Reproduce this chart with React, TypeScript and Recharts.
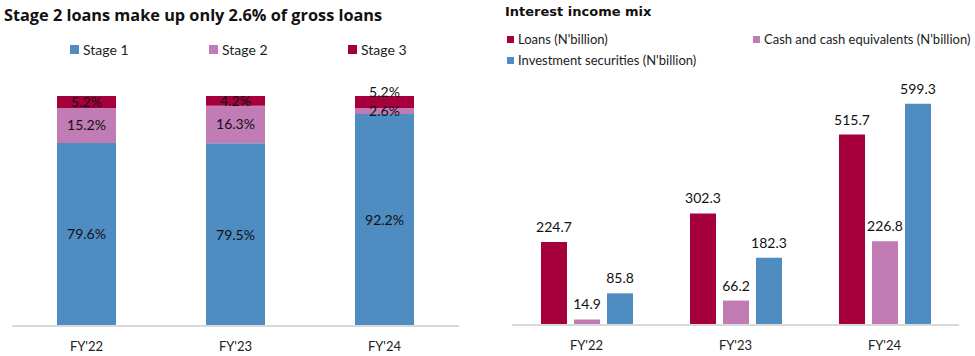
import { BarChart, Bar, XAxis, YAxis, LabelList } from "recharts";

const years = ["FY'22", "FY'23", "FY'24"];
const stage1 = [79.6, 79.5, 92.2];
const stage2 = [15.2, 16.3, 2.6];
const stage3 = [5.2, 4.2, 5.2];

const loans = [224.7, 302.3, 515.7];
const cash = [14.9, 66.2, 226.8];
const investments = [85.8, 182.3, 599.3];

const BLUE = "#4f8cc2";
const PINK = "#c17bb5";
const CRIMSON = "#a6003c";
const FONT = "Lato, 'Noto Sans', sans-serif";

const stageData = years.map((y, i) => ({
  year: y,
  s1: stage1[i],
  s2: stage2[i],
  s3: stage3[i],
}));

const incomeData = years.map((y, i) => ({
  year: y,
  loans: loans[i],
  cash: cash[i],
  inv: investments[i],
}));

const pct = (v: any) => `${Number(v).toFixed(1)}%`;

// stage 3 label gets pushed up when the stage 2 slice under it is tiny
function Stage3Label(props: any) {
  const { x, y, width, height, value, index } = props;
  const bump = stage2[index] < 5 ? -10 : 0;
  return (
    <text
      x={x + width / 2}
      y={y + height / 2 + bump}
      textAnchor="middle"
      dominantBaseline="central"
      fontSize={14}
      fontFamily={FONT}
      fill="#111"
    >
      {pct(value)}
    </text>
  );
}

function Swatch({ color, size }: { color: string; size: number }) {
  return (
    <span
      style={{
        display: "inline-block",
        width: size,
        height: size,
        background: color,
        marginRight: 4,
      }}
    />
  );
}

export default function App() {
  const labelStyle = { fontSize: 14, fontFamily: FONT, fill: "#111" };
  const tick = { fontSize: 13, fontFamily: FONT, fill: "#222" };

  return (
    <div
      style={{
        position: "fixed",
        left: 0,
        top: 0,
        width: 975,
        height: 356,
        background: "#fff",
        fontFamily: FONT,
      }}
    >
      {/* left panel */}
      <div
        style={{
          position: "absolute",
          left: 4,
          top: 4,
          fontSize: 16.3,
          fontWeight: 700,
          fontFamily: "'Open Sans', sans-serif",
          color: "#111",
          whiteSpace: "nowrap",
        }}
      >
        Stage 2 loans make up only 2.6% of gross loans
      </div>
      {[
        { name: "Stage 1", color: BLUE, x: 70 },
        { name: "Stage 2", color: PINK, x: 209 },
        { name: "Stage 3", color: CRIMSON, x: 348 },
      ].map((l) => (
        <div
          key={l.name}
          style={{
            position: "absolute",
            left: l.x,
            top: 41,
            fontSize: 14,
            color: "#222",
            display: "flex",
            alignItems: "center",
            whiteSpace: "nowrap",
          }}
        >
          <Swatch color={l.color} size={9} />
          {l.name}
        </div>
      ))}
      <div style={{ position: "absolute", left: 0, top: 0 }}>
        <BarChart
          width={480}
          height={356}
          data={stageData}
          margin={{ top: 96, left: 12, right: 21, bottom: 0 }}
          barSize={59}
        >
          <XAxis
            dataKey="year"
            height={30}
            axisLine={{ stroke: "#d9d9d9", strokeWidth: 2 }}
            tickLine={false}
            tick={tick}
            tickMargin={10}
          />
          <YAxis hide domain={[0, 100]} />
          <Bar dataKey="s1" stackId="a" fill={BLUE} isAnimationActive={false}>
            <LabelList dataKey="s1" position="center" formatter={pct} style={labelStyle} />
          </Bar>
          <Bar dataKey="s2" stackId="a" fill={PINK} isAnimationActive={false}>
            <LabelList dataKey="s2" position="center" formatter={pct} style={labelStyle} />
          </Bar>
          <Bar dataKey="s3" stackId="a" fill={CRIMSON} isAnimationActive={false}>
            <LabelList dataKey="s3" content={<Stage3Label />} />
          </Bar>
        </BarChart>
      </div>

      {/* right panel */}
      <div
        style={{
          position: "absolute",
          left: 505,
          top: 4,
          fontSize: 13,
          fontWeight: 700,
          fontFamily: "'DejaVu Sans', sans-serif",
          color: "#111",
          whiteSpace: "nowrap",
        }}
      >
        Interest income mix
      </div>
      {[
        { name: "Loans (N'billion)", color: CRIMSON, x: 507, y: 31 },
        { name: "Cash and cash equivalents (N'billion)", color: PINK, x: 753, y: 31 },
        { name: "Investment securities (N'billion)", color: BLUE, x: 507, y: 52 },
      ].map((l) => (
        <div
          key={l.name}
          style={{
            position: "absolute",
            left: l.x,
            top: l.y,
            fontSize: 13,
            color: "#222",
            display: "flex",
            alignItems: "center",
            whiteSpace: "nowrap",
          }}
        >
          <Swatch color={l.color} size={7} />
          {l.name}
        </div>
      ))}
      <div style={{ position: "absolute", left: 480, top: 0 }}>
        <BarChart
          width={495}
          height={356}
          data={incomeData}
          margin={{ top: 85, left: 32, right: 16, bottom: 0 }}
          barSize={26}
          barGap={7}
        >
          <XAxis
            dataKey="year"
            height={31}
            axisLine={{ stroke: "#d9d9d9", strokeWidth: 2 }}
            tickLine={false}
            tick={tick}
            tickMargin={10}
          />
          <YAxis hide domain={[0, 650]} />
          <Bar dataKey="loans" fill={CRIMSON} isAnimationActive={false}>
            <LabelList dataKey="loans" position="top" offset={10} style={labelStyle} />
          </Bar>
          <Bar dataKey="cash" fill={PINK} isAnimationActive={false}>
            <LabelList dataKey="cash" position="top" offset={10} style={labelStyle} />
          </Bar>
          <Bar dataKey="inv" fill={BLUE} isAnimationActive={false}>
            <LabelList dataKey="inv" position="top" offset={10} style={labelStyle} />
          </Bar>
        </BarChart>
      </div>
    </div>
  );
}
